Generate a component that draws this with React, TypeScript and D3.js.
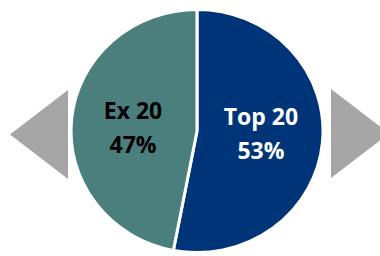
import React from 'react'
import * as d3 from 'd3'

const categories = ['Top 20', 'Ex 20']
const shares = [53, 47]
const sliceColors = ['#003478', '#4a7f7e']
const labelColors = ['#ffffff', '#000000']

interface Slice {
  name: string
  value: number
}

const data: Slice[] = categories.map((c, i) => ({ name: c, value: shares[i] }))

const App = () => {
  const width = 380
  const height = 256
  const cx = 197
  const cy = 131
  const rx = 126
  const ry = 121.5

  const pie = d3.pie<Slice>().sort(null).value((d) => d.value)
  const arcs = pie(data)
  const arc = d3.arc<d3.PieArcDatum<Slice>>().innerRadius(0).outerRadius(rx)
  const labelArc = d3.arc<d3.PieArcDatum<Slice>>().innerRadius(rx * 0.51).outerRadius(rx * 0.51)

  const grey = '#a6a6a6'
  // arrows either side of the pie
  const leftTri = d3.line()([[10, 134.5], [68, 90], [68, 179]]) + 'Z'
  const rightTri = d3.line()([[331, 89], [389, 133.5], [331, 178]]) + 'Z'

  return (
    <svg width={width} height={height} style={{ position: 'absolute', left: 0, top: 0, background: '#fff' }}>
      <path d={leftTri} fill={grey} />
      <path d={rightTri} fill={grey} />
      <g transform={`translate(${cx},${cy}) scale(1,${ry / rx})`}>
        {arcs.map((a, i) => (
          <path key={i} d={arc(a) || ''} fill={sliceColors[i]} stroke="#fff" strokeWidth={3} />
        ))}
      </g>
      {arcs.map((a, i) => {
        const [lx, ly] = labelArc.centroid(a)
        const x = cx + lx
        const y = cy + ly * 0.5
        return (
          <text
            key={i}
            x={x}
            y={y}
            textAnchor="middle"
            fill={labelColors[i]}
            fontFamily="'Open Sans', sans-serif"
            fontWeight="bold"
            fontSize={23}
          >
            <tspan x={x} dy={-9}>{a.data.name}</tspan>
            <tspan x={x} dy={34}>{a.data.value}%</tspan>
          </text>
        )
      })}
    </svg>
  )
}

export default App
